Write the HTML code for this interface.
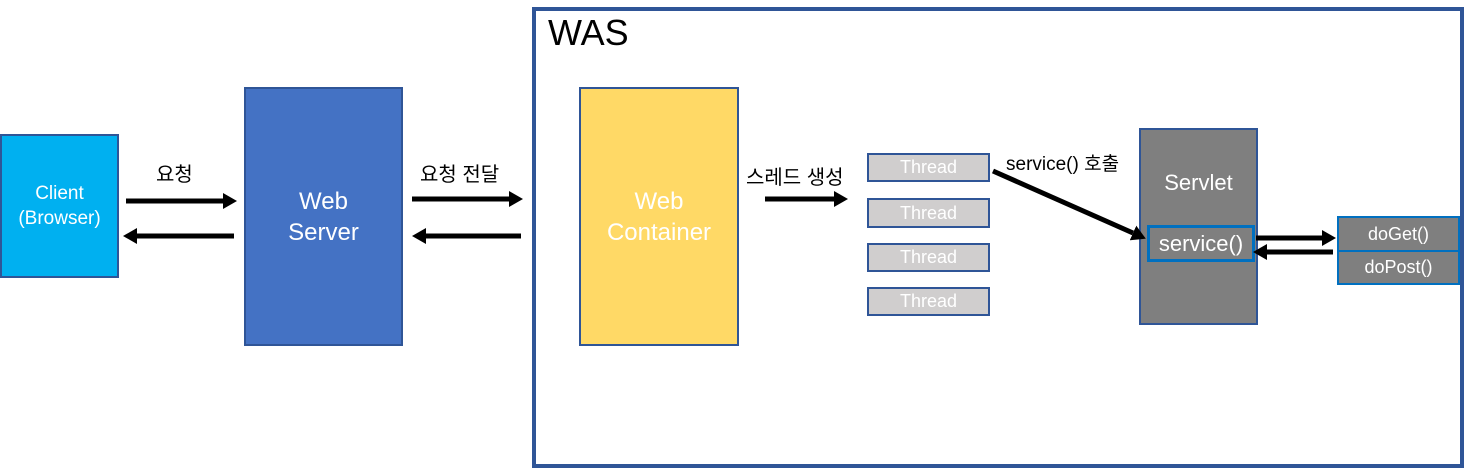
<!DOCTYPE html>
<html><head><meta charset="utf-8"><style>
body{margin:0;width:1468px;height:469px;background:#fff;position:relative;overflow:hidden;font-family:"Liberation Sans","Noto Sans CJK KR",sans-serif}
.b{position:absolute;box-sizing:border-box;display:flex;align-items:center;justify-content:center;text-align:center;color:#fff}
.t{position:absolute;color:#000;white-space:nowrap}
</style></head><body>
<div class="b" style="left:532px;top:7px;width:932px;height:461px;border:4px solid #2f5597"></div>
<div class="t" style="left:548px;top:12px;font-size:36px">WAS</div>
<div class="b" style="left:0;top:134px;width:119px;height:144px;background:#00b0f0;border:2px solid #2f5597;font-size:19px;line-height:25px">Client<br>(Browser)</div>
<div class="b" style="left:244px;top:87px;width:159px;height:259px;background:#4472c4;border:2px solid #2f5597;font-size:24px;line-height:31px">Web<br>Server</div>
<div class="b" style="left:579px;top:87px;width:160px;height:259px;background:#ffd966;border:2px solid #2f5597;font-size:24px;line-height:31px">Web<br>Container</div>
<div class="b" style="left:867px;top:153px;width:123px;height:29px;background:#d0cece;border:2px solid #2f5597;font-size:18px">Thread</div>
<div class="b" style="left:867px;top:198px;width:123px;height:30px;background:#d0cece;border:2px solid #2f5597;font-size:18px">Thread</div>
<div class="b" style="left:867px;top:243px;width:123px;height:29px;background:#d0cece;border:2px solid #2f5597;font-size:18px">Thread</div>
<div class="b" style="left:867px;top:287px;width:123px;height:29px;background:#d0cece;border:2px solid #2f5597;font-size:18px">Thread</div>
<div class="b" style="left:1139px;top:128px;width:119px;height:197px;background:#7f7f7f;border:2px solid #2f5597;align-items:flex-start;padding-top:40px;font-size:22px">Servlet</div>
<div class="b" style="left:1147px;top:225px;width:108px;height:37px;background:#7f7f7f;border:3px solid #0070c0;font-size:22px">service()</div>
<div class="b" style="left:1337px;top:216px;width:123px;height:36px;background:#7f7f7f;border:2px solid #0070c0;font-size:18px">doGet()</div>
<div class="b" style="left:1337px;top:250px;width:123px;height:35px;background:#7f7f7f;border:2px solid #0070c0;font-size:18px">doPost()</div>
<div class="t" style="left:156px;top:158px;font-size:20px">요청</div>
<div class="t" style="left:420px;top:158px;font-size:20px">요청 전달</div>
<div class="t" style="left:746px;top:161px;font-size:20px">스레드 생성</div>
<div class="t" style="left:1006px;top:149px;font-size:19px">service() 호출</div>
<svg width="1468" height="469" style="position:absolute;left:0;top:0">
<defs><marker id="a" markerWidth="14" markerHeight="16" refX="0" refY="8" orient="auto" markerUnits="userSpaceOnUse"><path d="M0,0 L14,8 L0,16z" fill="#000"/></marker></defs>
<g stroke="#000" stroke-width="5" marker-end="url(#a)">
<line x1="126" y1="201" x2="223" y2="201"/>
<line x1="234" y1="236" x2="137" y2="236"/>
<line x1="412" y1="199" x2="509" y2="199"/>
<line x1="521" y1="236" x2="426" y2="236"/>
<line x1="765" y1="199" x2="834" y2="199"/>
<line x1="993" y1="171" x2="1133" y2="233"/>
<line x1="1256" y1="238" x2="1322" y2="238"/>
<line x1="1333" y1="252" x2="1267" y2="252"/>
</g></svg>
</body></html>
